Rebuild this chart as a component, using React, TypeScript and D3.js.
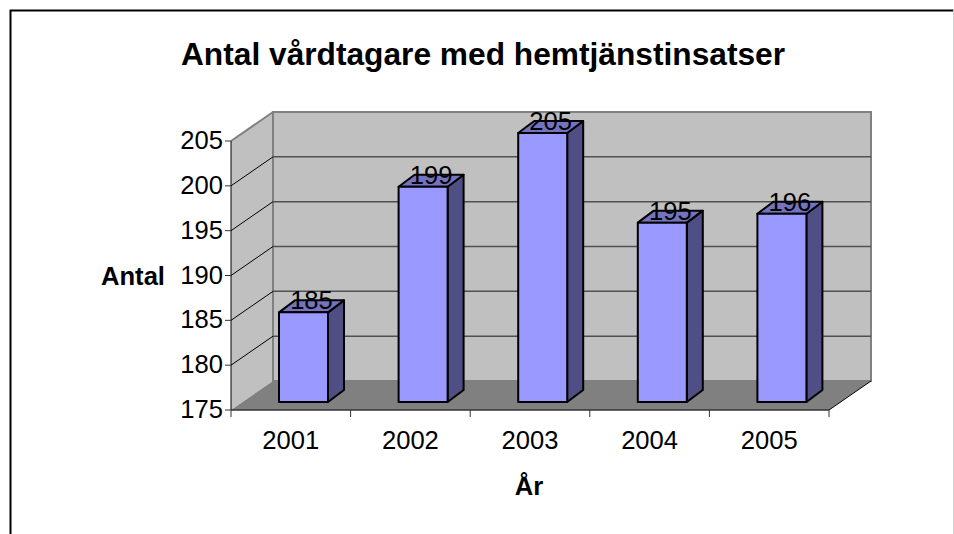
import * as d3 from "d3";

const years = ["2001", "2002", "2003", "2004", "2005"];
const antal = [185, 199, 205, 195, 196];
const yTicks = [175, 180, 185, 190, 195, 200, 205];

const font = "'Liberation Sans', Arial, sans-serif";
const width = 954;
const height = 534;
const labelSize = 25.6;

// front plane of the box, back wall is shifted by depth
const x = d3.scaleBand<string>().domain(years).range([231, 829]);
const y = d3.scaleLinear().domain([175, 205]).range([410, 141]);
const depthX = 42;
const depthY = -29;

// bars sit a bit inside the box
const barW = 49;
const barDX = 16;
const barDY = -12;
const barOffX = 48;
const barOffY = -8;

function poly(points: [number, number][]) {
  return d3.line()(points) + "Z";
}

export default function App() {
  const left = x.range()[0];
  const right = x.range()[1];
  const bottom = y(175);
  const top = y(205);

  return (
    <svg
      width={width}
      height={height}
      style={{ position: "absolute", left: 0, top: 0, background: "#fff" }}
      fontFamily={font}
    >
      {/* frame */}
      <path d="M10.5,534V10.5H953.5" fill="none" stroke="#000" strokeWidth={2} />
      <line x1={953.5} x2={953.5} y1={10} y2={534} stroke="#d0d0d0" strokeWidth={1} />

      <text x={483} y={65} textAnchor="middle" fontSize={31.7} fontWeight="bold">
        Antal vårdtagare med hemtjänstinsatser
      </text>

      {/* walls */}
      <path
        d={poly([[left, bottom], [left, top], [left + depthX, top + depthY], [left + depthX, bottom + depthY]])}
        fill="#c0c0c0"
      />
      <rect
        x={left + depthX}
        y={top + depthY}
        width={right - left}
        height={bottom - top}
        fill="#c0c0c0"
        stroke="#808080"
        strokeWidth={2}
      />
      <path
        d={poly([[left, bottom], [right, bottom], [right + depthX, bottom + depthY], [left + depthX, bottom + depthY]])}
        fill="#808080"
      />
      <line x1={left} y1={top} x2={left + depthX} y2={top + depthY} stroke="#808080" strokeWidth={2} />

      {/* gridlines */}
      {yTicks.slice(1, -1).map((t) => (
        <g key={t}>
          <line x1={left} y1={y(t)} x2={left + depthX} y2={y(t) + depthY} stroke="#000" />
          <line
            x1={left + depthX}
            y1={y(t) + depthY}
            x2={right + depthX}
            y2={y(t) + depthY}
            stroke="#505050"
            strokeWidth={1.5}
          />
        </g>
      ))}

      {/* axes */}
      <line x1={left} y1={top} x2={left} y2={bottom} stroke="#000" />
      <line x1={left} y1={bottom} x2={right} y2={bottom} stroke="#333" strokeWidth={1.5} />
      <line x1={right} y1={bottom} x2={right + depthX} y2={bottom + depthY} stroke="#000" />
      {yTicks.map((t) => (
        <g key={t}>
          <line x1={left - 6} x2={left} y1={y(t)} y2={y(t)} stroke="#333" />
          <text x={left - 8} y={y(t) + 8} textAnchor="end" fontSize={labelSize}>
            {t}
          </text>
        </g>
      ))}
      {[...years.map((d) => x(d)!), right].map((p) => (
        <line key={p} x1={p} x2={p} y1={bottom} y2={bottom + 7} stroke="#333" />
      ))}
      {years.map((d) => (
        <text key={d} x={x(d)! + x.bandwidth() / 2} y={449} textAnchor="middle" fontSize={labelSize}>
          {d}
        </text>
      ))}

      <text x={133} y={285} textAnchor="middle" fontSize={labelSize} fontWeight="bold">
        Antal
      </text>
      <text x={529} y={495} textAnchor="middle" fontSize={labelSize} fontWeight="bold">
        År
      </text>

      {/* bars */}
      {years.map((d, i) => {
        const x0 = x(d)! + barOffX;
        const x1 = x0 + barW;
        const y0 = y(175) + barOffY;
        const y1 = y(antal[i]) + barOffY;
        return (
          <g key={d} stroke="#000" strokeWidth={2} strokeLinejoin="round">
            <path
              d={poly([[x1, y0], [x1 + barDX, y0 + barDY], [x1 + barDX, y1 + barDY], [x1, y1]])}
              fill="#4f4f85"
            />
            <path
              d={poly([[x0, y1], [x1, y1], [x1 + barDX, y1 + barDY], [x0 + barDX, y1 + barDY]])}
              fill="#7373bf"
            />
            <rect x={x0} y={y1} width={barW} height={y0 - y1} fill="#9999ff" />
          </g>
        );
      })}

      {/* value labels on top of the bars */}
      {years.map((d, i) => (
        <text
          key={d}
          x={x(d)! + barOffX + barW / 2 + 8}
          y={y(antal[i]) + barOffY - 3}
          textAnchor="middle"
          fontSize={labelSize}
        >
          {antal[i]}
        </text>
      ))}
    </svg>
  );
}
